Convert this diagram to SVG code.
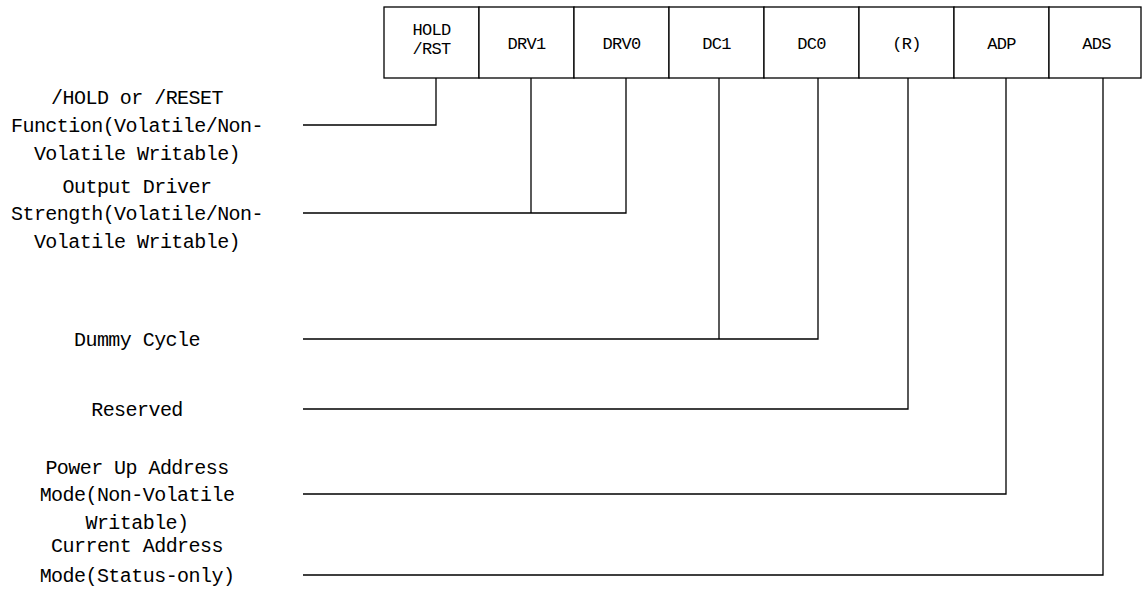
<svg xmlns="http://www.w3.org/2000/svg" width="1142" height="608" viewBox="0 0 1142 608">
<style>
.box{fill:#fff;stroke:#000;stroke-width:1.3}
.bt{font-family:"Liberation Mono",monospace;font-size:17px;letter-spacing:-0.7px;fill:#000;text-anchor:middle}
.lt{font-family:"Liberation Mono",monospace;font-size:20px;letter-spacing:-0.55px;fill:#000;text-anchor:middle}
.ln{fill:none;stroke:#000;stroke-width:1.3}
</style>
<rect width="1142" height="608" fill="#fff"/>
<g id="reg">
<g id="b-hold"><rect class="box" x="384" y="7" width="95" height="71"/><text class="bt" x="431.5" y="35">HOLD</text><text class="bt" x="431.5" y="54">/RST</text></g>
<g id="b-drv1"><rect class="box" x="479" y="7" width="95" height="71"/><text class="bt" x="526.5" y="49">DRV1</text></g>
<g id="b-drv0"><rect class="box" x="574" y="7" width="95" height="71"/><text class="bt" x="621.5" y="49">DRV0</text></g>
<g id="b-dc1"><rect class="box" x="669" y="7" width="95" height="71"/><text class="bt" x="716.5" y="49">DC1</text></g>
<g id="b-dc0"><rect class="box" x="764" y="7" width="95" height="71"/><text class="bt" x="811.5" y="49">DC0</text></g>
<g id="b-r"><rect class="box" x="859" y="7" width="95" height="71"/><text class="bt" x="906.5" y="49">(R)</text></g>
<g id="b-adp"><rect class="box" x="954" y="7" width="95" height="71"/><text class="bt" x="1001.5" y="49">ADP</text></g>
<g id="b-ads"><rect class="box" x="1049" y="7" width="92" height="71"/><text class="bt" x="1096.5" y="49">ADS</text></g>
</g>
<g id="connectors">
<polyline class="ln" points="303,125 436,125 436,78"/>
<polyline class="ln" points="303,213 626,213 626,78"/>
<line class="ln" x1="531" y1="78" x2="531" y2="213"/>
<polyline class="ln" points="303,339 818,339 818,78"/>
<line class="ln" x1="719" y1="78" x2="719" y2="339"/>
<polyline class="ln" points="303,409 908,409 908,78"/>
<polyline class="ln" points="303,494 1006,494 1006,78"/>
<polyline class="ln" points="303,575 1103,575 1103,78"/>
</g>
<g id="l-hold"><text class="lt" x="137" y="104">/HOLD or /RESET</text><text class="lt" x="137" y="132">Function(Volatile/Non-</text><text class="lt" x="137" y="160">Volatile Writable)</text></g>
<g id="l-drv"><text class="lt" x="137" y="193">Output Driver</text><text class="lt" x="137" y="220">Strength(Volatile/Non-</text><text class="lt" x="137" y="248">Volatile Writable)</text></g>
<g id="l-dc"><text class="lt" x="137" y="346">Dummy Cycle</text></g>
<g id="l-r"><text class="lt" x="137" y="416">Reserved</text></g>
<g id="l-adp"><text class="lt" x="137" y="474">Power Up Address</text><text class="lt" x="137" y="501">Mode(Non-Volatile</text><text class="lt" x="137" y="529">Writable)</text></g>
<g id="l-ads"><text class="lt" x="137" y="552">Current Address</text><text class="lt" x="137" y="582">Mode(Status-only)</text></g>
</svg>
